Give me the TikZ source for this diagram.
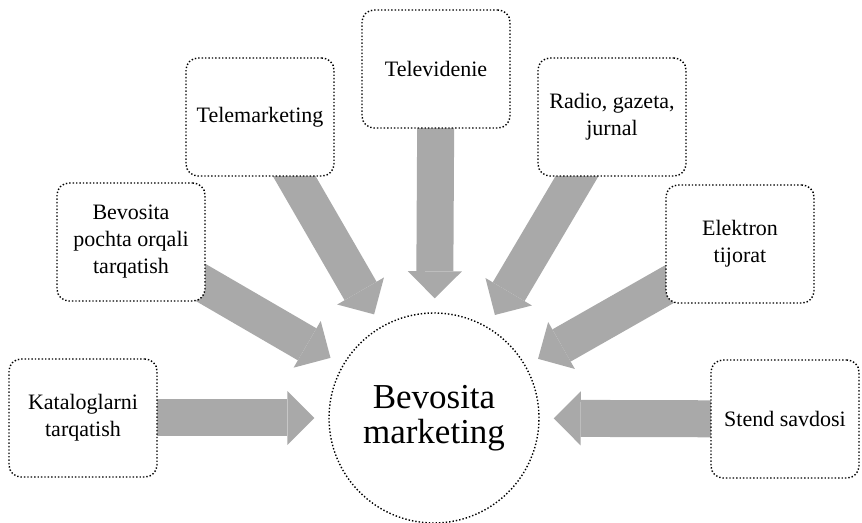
\documentclass[tikz,border=0pt]{standalone}
\usepackage{fontspec}
\setmainfont{Liberation Serif}
\usepackage{tikz}
\usetikzlibrary{arrows.meta,positioning,backgrounds}
\definecolor{shade}{HTML}{A9A9A9}

\begin{document}
\begin{tikzpicture}[
    x=0.5pt,y=-0.5pt,
    box/.style={draw,densely dotted,line width=0.7pt,fill=white,rounded corners=6pt,
      minimum width=74pt,minimum height=59pt,align=center,
      font=\fontsize{11}{13.5}\selectfont},
    hubnode/.style={draw,densely dotted,line width=0.7pt,fill=white,circle,
      minimum size=105pt,inner sep=0pt,align=center,
      font=\fontsize{17.5}{17.5}\selectfont},
    arrow/.style={draw=shade,line width=18.5pt,shorten >=7pt,
      -{Triangle[length=13.5pt,width=27pt,line width=0pt]}}
  ]
    \useasboundingbox (0,0) rectangle (862,523);

    \node[hubnode] (hub) at (434,418) {Bevosita\\marketing};

    \node[box] (kat) at (83,418) {Kataloglarni\\tarqatish};
    \node[box] (pochta) at (131,242) {Bevosita\\pochta orqali\\tarqatish};
    \node[box] (tmk) at (260,117) {Telemarketing};
    \node[box] (tv) at (436,69) {Televidenie};
    \node[box] (radio) at (612,117) {Radio, gazeta,\\jurnal};
    \node[box] (elek) at (740,244) {Elektron\\tijorat};
    \node[box] (stend) at (785,419) {Stend savdosi};

    \begin{scope}[on background layer]
      \draw[arrow] (kat.center) -- (hub);
      \draw[arrow] (pochta.center) -- (hub);
      \draw[arrow] (tmk.center) -- (hub);
      \draw[arrow] (tv.center) -- (hub);
      \draw[arrow] (radio.center) -- (hub);
      \draw[arrow] (elek.center) -- (hub);
      \draw[arrow] (stend.center) -- (hub);
    \end{scope}
  \end{tikzpicture}
\end{document}
